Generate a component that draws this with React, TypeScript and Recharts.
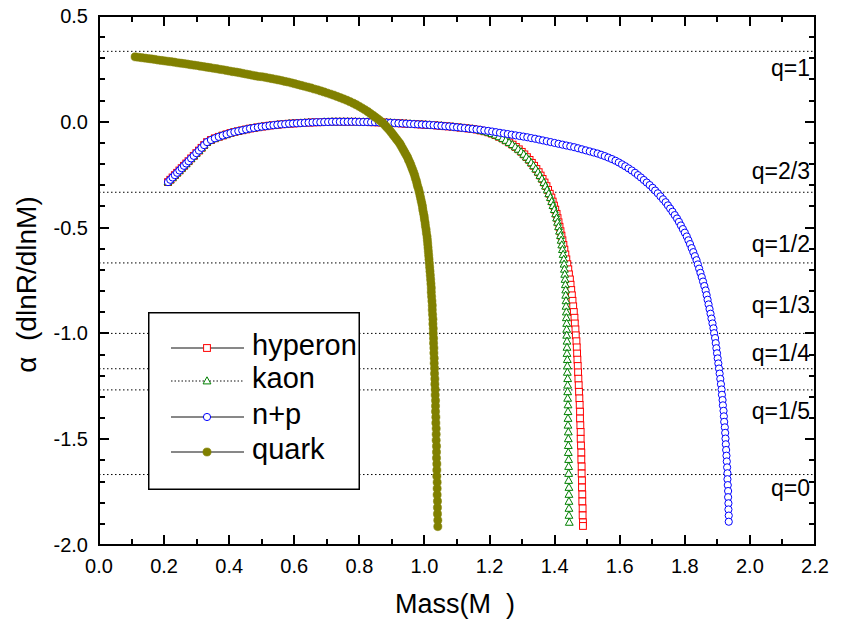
import React from 'react';
import { LineChart, Line, XAxis, YAxis, ReferenceLine } from 'recharts';

// tick values
const xTicks = [0, 0.1, 0.2, 0.3, 0.4, 0.5, 0.6, 0.7, 0.8, 0.9, 1.0, 1.1, 1.2, 1.3, 1.4, 1.5, 1.6, 1.7, 1.8, 1.9, 2.0, 2.1, 2.2];
const yTicks = [-2.0, -1.9, -1.8, -1.7, -1.6, -1.5, -1.4, -1.3, -1.2, -1.1, -1.0, -0.9, -0.8, -0.7, -0.6, -0.5, -0.4, -0.3, -0.2, -0.1, 0, 0.1, 0.2, 0.3, 0.4, 0.5];

// q reference levels
const qLabels = ['q=1', 'q=2/3', 'q=1/2', 'q=1/3', 'q=1/4', 'q=1/5', 'q=0'];
const qAlpha = [0.333, -0.333, -0.667, -1.0, -1.167, -1.267, -1.667];

// common branch of hyperon / kaon / n+p  [mass, alpha]
const sharedBranch: [number, number][] = [
  [0.212, -0.285], [0.219, -0.274], [0.226, -0.263], [0.233, -0.252], [0.240, -0.241], [0.247, -0.230],
  [0.254, -0.219], [0.261, -0.208], [0.268, -0.197], [0.275, -0.186], [0.283, -0.173], [0.291, -0.161],
  [0.299, -0.148], [0.307, -0.136], [0.315, -0.123], [0.323, -0.110], [0.332, -0.096], [0.344, -0.086],
  [0.356, -0.078], [0.368, -0.071], [0.380, -0.065], [0.392, -0.059], [0.404, -0.053], [0.416, -0.048],
  [0.428, -0.044], [0.440, -0.040], [0.452, -0.036], [0.464, -0.032], [0.476, -0.029], [0.488, -0.026],
  [0.500, -0.023], [0.512, -0.021], [0.524, -0.018], [0.536, -0.016], [0.548, -0.014], [0.560, -0.012],
  [0.572, -0.011], [0.584, -0.009], [0.596, -0.008], [0.608, -0.007], [0.620, -0.006], [0.632, -0.005],
  [0.644, -0.004], [0.656, -0.003], [0.668, -0.002], [0.680, -0.002], [0.692, -0.001], [0.704, -0.001],
  [0.716, 0], [0.728, 0], [0.740, 0], [0.752, 0], [0.764, 0], [0.776, 0], [0.788, 0], [0.800, -0.001],
  [0.812, -0.001], [0.824, -0.001], [0.836, -0.002], [0.848, -0.002], [0.860, -0.003], [0.872, -0.003],
  [0.884, -0.004], [0.896, -0.005], [0.908, -0.006], [0.920, -0.007], [0.932, -0.008], [0.944, -0.009],
  [0.956, -0.010], [0.968, -0.011], [0.980, -0.012], [0.992, -0.013], [1.004, -0.014], [1.016, -0.015],
  [1.028, -0.016], [1.040, -0.018], [1.052, -0.019], [1.064, -0.021], [1.076, -0.022], [1.088, -0.024],
  [1.100, -0.026], [1.112, -0.028], [1.124, -0.030], [1.136, -0.032], [1.148, -0.034],
];

const npTail: [number, number][] = [
  [1.160, -0.036], [1.172, -0.038], [1.184, -0.041], [1.196, -0.043], [1.208, -0.046], [1.220, -0.049],
  [1.232, -0.052], [1.244, -0.055], [1.256, -0.058], [1.268, -0.061], [1.280, -0.064], [1.292, -0.067],
  [1.304, -0.070], [1.316, -0.073], [1.328, -0.077], [1.340, -0.080], [1.352, -0.084], [1.364, -0.088],
  [1.376, -0.092], [1.388, -0.096], [1.400, -0.100], [1.412, -0.104], [1.424, -0.108], [1.436, -0.112],
  [1.448, -0.116], [1.460, -0.120], [1.472, -0.125], [1.484, -0.130], [1.496, -0.135], [1.508, -0.140],
  [1.520, -0.145], [1.532, -0.150], [1.543, -0.156], [1.554, -0.162], [1.565, -0.169], [1.576, -0.176],
  [1.587, -0.184], [1.597, -0.192], [1.607, -0.201], [1.617, -0.210], [1.627, -0.220], [1.637, -0.230],
  [1.647, -0.241], [1.656, -0.252], [1.665, -0.263], [1.674, -0.275], [1.683, -0.287], [1.692, -0.299],
  [1.701, -0.312], [1.709, -0.325], [1.717, -0.338], [1.725, -0.352], [1.733, -0.366], [1.741, -0.380],
  [1.748, -0.395], [1.755, -0.410], [1.762, -0.425], [1.769, -0.441], [1.776, -0.457], [1.782, -0.473],
  [1.788, -0.490], [1.794, -0.507], [1.800, -0.524], [1.806, -0.542], [1.811, -0.560], [1.816, -0.578],
  [1.821, -0.597], [1.826, -0.616], [1.831, -0.635], [1.836, -0.654], [1.840, -0.674], [1.844, -0.694],
  [1.848, -0.714], [1.852, -0.734], [1.856, -0.755], [1.860, -0.776], [1.864, -0.797], [1.867, -0.819],
  [1.870, -0.841], [1.873, -0.863], [1.876, -0.885], [1.879, -0.907], [1.882, -0.930], [1.885, -0.953],
  [1.888, -0.976], [1.890, -0.999], [1.893, -1.022], [1.895, -1.046], [1.897, -1.070], [1.899, -1.094],
  [1.901, -1.118], [1.903, -1.142], [1.905, -1.166], [1.907, -1.190], [1.909, -1.215], [1.911, -1.240],
  [1.913, -1.265], [1.914, -1.290], [1.916, -1.315], [1.917, -1.340], [1.919, -1.366], [1.920, -1.392],
  [1.921, -1.418], [1.923, -1.444], [1.924, -1.470], [1.925, -1.497], [1.926, -1.524], [1.927, -1.551],
  [1.928, -1.578], [1.929, -1.605], [1.930, -1.633], [1.931, -1.661], [1.931, -1.689], [1.932, -1.717],
  [1.933, -1.745], [1.933, -1.774], [1.934, -1.803], [1.934, -1.832], [1.935, -1.861], [1.935, -1.890],
];

const kaonTail: [number, number][] = [
  [1.160, -0.037], [1.172, -0.041], [1.184, -0.045], [1.196, -0.050], [1.207, -0.056], [1.218, -0.063],
  [1.229, -0.071], [1.240, -0.079], [1.250, -0.088], [1.260, -0.098], [1.270, -0.108], [1.279, -0.119],
  [1.288, -0.130], [1.297, -0.142], [1.305, -0.154], [1.313, -0.167], [1.321, -0.180], [1.328, -0.194],
  [1.335, -0.208], [1.342, -0.223], [1.349, -0.238], [1.355, -0.254], [1.361, -0.270], [1.367, -0.287],
  [1.372, -0.304], [1.377, -0.322], [1.382, -0.340], [1.387, -0.358], [1.391, -0.377], [1.395, -0.396],
  [1.399, -0.415], [1.403, -0.435], [1.406, -0.455], [1.409, -0.475], [1.412, -0.496], [1.415, -0.517],
  [1.418, -0.538], [1.420, -0.560], [1.422, -0.582], [1.424, -0.604], [1.426, -0.627], [1.428, -0.650],
  [1.429, -0.673], [1.430, -0.697], [1.431, -0.721], [1.432, -0.745], [1.433, -0.770], [1.434, -0.795],
  [1.434, -0.820], [1.435, -0.846], [1.435, -0.872], [1.436, -0.899], [1.436, -0.926], [1.437, -0.953],
  [1.437, -0.981], [1.437, -1.009], [1.438, -1.037], [1.438, -1.066], [1.438, -1.095], [1.439, -1.124],
  [1.439, -1.154], [1.439, -1.184], [1.440, -1.214], [1.440, -1.245], [1.440, -1.276], [1.440, -1.307],
  [1.441, -1.338], [1.441, -1.370], [1.441, -1.402], [1.441, -1.434], [1.442, -1.466], [1.442, -1.498],
  [1.442, -1.530], [1.442, -1.563], [1.443, -1.596], [1.443, -1.629], [1.443, -1.662], [1.443, -1.695],
  [1.444, -1.728], [1.444, -1.761], [1.444, -1.794], [1.444, -1.827], [1.444, -1.860], [1.445, -1.893],
];

const hyperonTail: [number, number][] = [
  [1.161, -0.037], [1.173, -0.041], [1.185, -0.045], [1.197, -0.050], [1.208, -0.056], [1.219, -0.063],
  [1.230, -0.071], [1.241, -0.079], [1.251, -0.088], [1.261, -0.098], [1.271, -0.108], [1.281, -0.119],
  [1.290, -0.130], [1.299, -0.142], [1.307, -0.154], [1.315, -0.167], [1.323, -0.180], [1.330, -0.194],
  [1.337, -0.208], [1.344, -0.223], [1.351, -0.238], [1.357, -0.254], [1.363, -0.270], [1.369, -0.287],
  [1.375, -0.304], [1.380, -0.322], [1.385, -0.340], [1.390, -0.358], [1.394, -0.377], [1.398, -0.396],
  [1.402, -0.415], [1.406, -0.435], [1.409, -0.455], [1.412, -0.475], [1.415, -0.496], [1.418, -0.517],
  [1.421, -0.538], [1.424, -0.560], [1.427, -0.582], [1.430, -0.604], [1.433, -0.627], [1.436, -0.650],
  [1.439, -0.673], [1.442, -0.697], [1.444, -0.721], [1.447, -0.745], [1.449, -0.770], [1.451, -0.795],
  [1.453, -0.820], [1.455, -0.846], [1.457, -0.872], [1.459, -0.899], [1.461, -0.926], [1.462, -0.953],
  [1.464, -0.981], [1.465, -1.009], [1.467, -1.037], [1.468, -1.066], [1.469, -1.095], [1.470, -1.124],
  [1.471, -1.154], [1.472, -1.184], [1.473, -1.214], [1.474, -1.245], [1.475, -1.276], [1.476, -1.307],
  [1.477, -1.338], [1.478, -1.370], [1.478, -1.402], [1.479, -1.434], [1.480, -1.466], [1.480, -1.498],
  [1.481, -1.530], [1.482, -1.563], [1.482, -1.596], [1.483, -1.629], [1.483, -1.662], [1.484, -1.695],
  [1.484, -1.728], [1.485, -1.761], [1.485, -1.794], [1.486, -1.827], [1.486, -1.860], [1.487, -1.893],
  [1.487, -1.910],
];

const quarkBranch: [number, number][] = [
  [0.111, 0.307], [0.121, 0.305], [0.131, 0.303], [0.141, 0.301], [0.151, 0.299], [0.161, 0.297],
  [0.171, 0.295], [0.181, 0.292], [0.191, 0.290], [0.201, 0.288], [0.211, 0.286], [0.221, 0.284],
  [0.231, 0.282], [0.241, 0.279], [0.251, 0.277], [0.261, 0.275], [0.271, 0.273], [0.281, 0.270],
  [0.291, 0.268], [0.301, 0.266], [0.311, 0.263], [0.321, 0.261], [0.331, 0.258], [0.341, 0.256],
  [0.351, 0.253], [0.361, 0.251], [0.371, 0.248], [0.381, 0.246], [0.391, 0.243], [0.401, 0.240],
  [0.411, 0.237], [0.421, 0.235], [0.431, 0.232], [0.441, 0.229], [0.451, 0.226], [0.461, 0.223],
  [0.471, 0.220], [0.481, 0.217], [0.491, 0.214], [0.501, 0.213], [0.511, 0.210], [0.521, 0.207],
  [0.531, 0.204], [0.541, 0.201], [0.551, 0.198], [0.561, 0.195], [0.571, 0.191], [0.581, 0.188],
  [0.591, 0.184], [0.601, 0.180], [0.611, 0.176], [0.621, 0.172], [0.631, 0.168], [0.641, 0.164],
  [0.651, 0.160], [0.661, 0.155], [0.671, 0.151], [0.681, 0.146], [0.691, 0.141], [0.701, 0.136],
  [0.711, 0.131], [0.721, 0.126], [0.731, 0.120], [0.741, 0.114], [0.751, 0.108], [0.761, 0.102],
  [0.771, 0.095], [0.781, 0.088], [0.790, 0.081], [0.799, 0.073], [0.808, 0.065], [0.817, 0.057],
  [0.826, 0.048], [0.834, 0.039], [0.842, 0.030], [0.849, 0.022], [0.856, 0.014], [0.863, 0.006],
  [0.870, -0.003], [0.876, -0.012], [0.882, -0.022], [0.888, -0.032], [0.894, -0.042], [0.899, -0.052],
  [0.904, -0.062], [0.909, -0.072], [0.914, -0.082], [0.919, -0.092], [0.924, -0.102], [0.928, -0.113],
  [0.932, -0.124], [0.936, -0.135], [0.940, -0.146], [0.944, -0.157], [0.948, -0.168], [0.951, -0.180],
  [0.955, -0.192], [0.958, -0.204], [0.961, -0.216], [0.964, -0.228], [0.967, -0.240], [0.970, -0.253],
  [0.972, -0.266], [0.975, -0.279], [0.977, -0.292], [0.979, -0.305], [0.982, -0.318], [0.984, -0.331],
  [0.986, -0.345], [0.988, -0.359], [0.990, -0.373], [0.992, -0.387], [0.994, -0.401], [0.995, -0.416],
  [0.997, -0.431], [0.999, -0.446], [1.000, -0.461], [1.002, -0.477], [1.003, -0.493], [1.005, -0.509],
  [1.006, -0.526], [1.008, -0.543], [1.009, -0.560], [1.010, -0.577], [1.011, -0.595], [1.012, -0.613],
  [1.013, -0.631], [1.014, -0.649], [1.015, -0.668], [1.016, -0.687], [1.017, -0.706], [1.018, -0.725],
  [1.019, -0.745], [1.020, -0.765], [1.021, -0.785], [1.021, -0.805], [1.022, -0.826], [1.023, -0.847],
  [1.024, -0.868], [1.024, -0.889], [1.025, -0.911], [1.026, -0.933], [1.026, -0.955], [1.027, -0.977],
  [1.027, -1.000], [1.028, -1.023], [1.028, -1.046], [1.029, -1.069], [1.029, -1.093], [1.030, -1.117],
  [1.030, -1.141], [1.031, -1.165], [1.031, -1.190], [1.032, -1.215], [1.032, -1.240], [1.033, -1.265],
  [1.033, -1.291], [1.034, -1.317], [1.034, -1.343], [1.034, -1.369], [1.035, -1.396], [1.035, -1.423],
  [1.036, -1.450], [1.036, -1.477], [1.036, -1.505], [1.037, -1.533], [1.037, -1.561], [1.037, -1.589],
  [1.038, -1.617], [1.038, -1.646], [1.038, -1.675], [1.039, -1.704], [1.039, -1.733], [1.039, -1.763],
  [1.040, -1.793], [1.040, -1.823], [1.040, -1.853], [1.041, -1.883], [1.041, -1.913],
];

const toRows = (pts: [number, number][]) => pts.map(([m, a]) => ({ m, a }));

const series = [
  { name: 'hyperon', data: toRows([...sharedBranch, ...hyperonTail]), color: '#ff0000', marker: 'square', dash: undefined },
  { name: 'kaon', data: toRows([...sharedBranch, ...kaonTail]), color: '#008000', marker: 'triangle', dash: '1.5 2' },
  { name: 'n+p', data: toRows([...sharedBranch, ...npTail]), color: '#0000ff', marker: 'circle', dash: undefined },
  { name: 'quark', data: toRows(quarkBranch), color: '#808000', marker: 'disc', dash: undefined },
];

// layout
const W = 842;
const H = 620;
const PLOT = { left: 99, top: 16, right: 815, bottom: 545 };
const X_DOMAIN = [0, 2.2];
const Y_DOMAIN = [-2, 0.5];
const qLabelDy = [25, -13, -11, -20, -8, 29, 21];
const legendRowY = [36, 69, 105, 140];
const FONT = '"Liberation Sans", Arial, Helvetica, sans-serif';

function drawMarker(kind: string, cx: number, cy: number, color: string, key?: any) {
  if (cx == null || cy == null) return <g key={key} />;
  if (kind === 'square') {
    return <rect key={key} x={cx - 3.4} y={cy - 3.4} width={6.8} height={6.8} fill="#fff" stroke={color} strokeWidth={1} />;
  }
  if (kind === 'triangle') {
    return (
      <path key={key} d={`M${cx},${cy - 4.2}L${cx + 3.9},${cy + 2.9}L${cx - 3.9},${cy + 2.9}Z`} fill="#fff" stroke={color} strokeWidth={1} />
    );
  }
  if (kind === 'disc') {
    return <circle key={key} cx={cx} cy={cy} r={4.1} fill={color} stroke={color} strokeWidth={0.5} />;
  }
  return <circle key={key} cx={cx} cy={cy} r={3.6} fill="#fff" stroke={color} strokeWidth={1} />;
}

const isMajor = (v: number, step: number) => Math.abs(Math.round(v * 10)) % step === 0;

const BottomTick = (p: any) => {
  const v = p.payload.value;
  if (!isMajor(v, 2)) return <g />;
  return (
    <text x={p.x} y={p.y + 28} textAnchor="middle" fontSize={20} fontFamily={FONT} fill="#000">
      {v.toFixed(1)}
    </text>
  );
};

const LeftTick = (p: any) => {
  const v = p.payload.value;
  if (!isMajor(v, 5)) return <g />;
  return (
    <text x={p.x - 11} y={p.y + 7} textAnchor="end" fontSize={20} fontFamily={FONT} fill="#000">
      {v.toFixed(1)}
    </text>
  );
};

const px = (v: number) => PLOT.left + ((v - X_DOMAIN[0]) / (X_DOMAIN[1] - X_DOMAIN[0])) * (PLOT.right - PLOT.left);
const py = (v: number) => PLOT.bottom - ((v - Y_DOMAIN[0]) / (Y_DOMAIN[1] - Y_DOMAIN[0])) * (PLOT.bottom - PLOT.top);

// frame and inward tick marks as plain boxes over the chart
function Frame() {
  const bar = (key: string, left: number, top: number, w: number, h: number) => (
    <div key={key} style={{ position: 'absolute', left, top, width: w, height: h, background: '#000' }} />
  );
  return (
    <div style={{ position: 'absolute', left: 0, top: 0, width: W, height: H, zIndex: 5, pointerEvents: 'none' }}>
      <div
        style={{
          position: 'absolute',
          left: PLOT.left - 1,
          top: PLOT.top - 1,
          width: PLOT.right - PLOT.left + 2,
          height: PLOT.bottom - PLOT.top + 2,
          border: '2px solid #000',
          boxSizing: 'border-box',
        }}
      />
      {xTicks.map((v) => {
        const len = isMajor(v, 2) ? 10 : 6;
        const x = px(v);
        return [bar(`b${v}`, x - 1, PLOT.bottom - len, 2, len), bar(`t${v}`, x - 1, PLOT.top, 2, len)];
      })}
      {yTicks.map((v) => {
        const len = isMajor(v, 5) ? 10 : 6;
        const y = py(v);
        return [bar(`l${v}`, PLOT.left, y - 1, len, 2), bar(`r${v}`, PLOT.right - len, y - 1, len, 2)];
      })}
    </div>
  );
}

function LegendBox() {
  return (
    <svg width={212} height={178} style={{ position: 'absolute', left: 148, top: 312, zIndex: 6, display: 'block' }}>
      <rect x={0.75} y={0.75} width={210.5} height={176.5} fill="#fff" stroke="#000" strokeWidth={1.5} />
      {series.map((s, i) => {
        const y = legendRowY[i];
        return (
          <g key={s.name}>
            <line x1={23} x2={96} y1={y} y2={y} stroke="#111" strokeWidth={1} strokeDasharray={s.dash} />
            {drawMarker(s.marker, 59, y, s.color)}
            <text x={104} y={y + 7} fontSize={29} fontFamily={FONT} fill="#000">
              {s.name}
            </text>
          </g>
        );
      })}
    </svg>
  );
}

export default function App() {
  return (
    <div style={{ position: 'fixed', left: 0, top: 0, width: W, height: H, background: '#fff', isolation: 'isolate' }}>
      <LineChart
        width={W}
        height={H}
        margin={{ top: PLOT.top, right: W - PLOT.right, bottom: 0, left: 0 }}
      >
        <XAxis
          xAxisId="x"
          dataKey="m"
          type="number"
          domain={X_DOMAIN}
          ticks={xTicks}
          interval={0}
          allowDataOverflow
          height={H - PLOT.bottom}
          tickSize={0}
          tickMargin={0}
          tickLine={false}
          tick={BottomTick}
          axisLine={{ stroke: '#000', strokeWidth: 2 }}
          label={(p: any) => (
            <text x={p.viewBox.x + p.viewBox.width / 2 - 2} y={p.viewBox.y + 68} textAnchor="middle" fontSize={27} fontFamily={FONT} fill="#000">
              {'Mass(M\u00a0\u00a0)'}
            </text>
          )}
        />
        <YAxis
          yAxisId="y"
          type="number"
          domain={Y_DOMAIN}
          ticks={yTicks}
          interval={0}
          allowDataOverflow
          width={PLOT.left}
          tickSize={0}
          tickMargin={0}
          tickLine={false}
          tick={LeftTick}
          axisLine={{ stroke: '#000', strokeWidth: 2 }}
          label={(p: any) => {
            const cx = p.viewBox.x + 36;
            const cy = p.viewBox.y + p.viewBox.height / 2 + 4;
            return (
              <text x={cx} y={cy} transform={`rotate(-90 ${cx} ${cy})`} textAnchor="middle" fontSize={28} fontFamily={FONT} fill="#000">
                {'\u03b1\u00a0\u00a0(dlnR/dlnM)'}
              </text>
            );
          }}
        />

        {qAlpha.map((a, i) => (
          <ReferenceLine
            key={qLabels[i]}
            xAxisId="x"
            yAxisId="y"
            y={a}
            stroke="#000"
            strokeWidth={1}
            strokeDasharray="1.5 2.5"
            label={(p: any) => (
              <text x={p.viewBox.x + p.viewBox.width - 5} y={p.viewBox.y + qLabelDy[i]} textAnchor="end" fontSize={23} fontFamily={FONT} fill="#000">
                {qLabels[i]}
              </text>
            )}
          />
        ))}

        {series.map((s) => (
          <Line
            key={s.name}
            xAxisId="x"
            yAxisId="y"
            data={s.data}
            dataKey="a"
            name={s.name}
            stroke={s.color}
            strokeWidth={1}
            strokeDasharray={s.dash}
            dot={(p: any) => drawMarker(s.marker, p.cx, p.cy, s.color, p.index)}
            activeDot={false}
            isAnimationActive={false}
          />
        ))}
      </LineChart>
      <Frame />
      <LegendBox />
    </div>
  );
}
